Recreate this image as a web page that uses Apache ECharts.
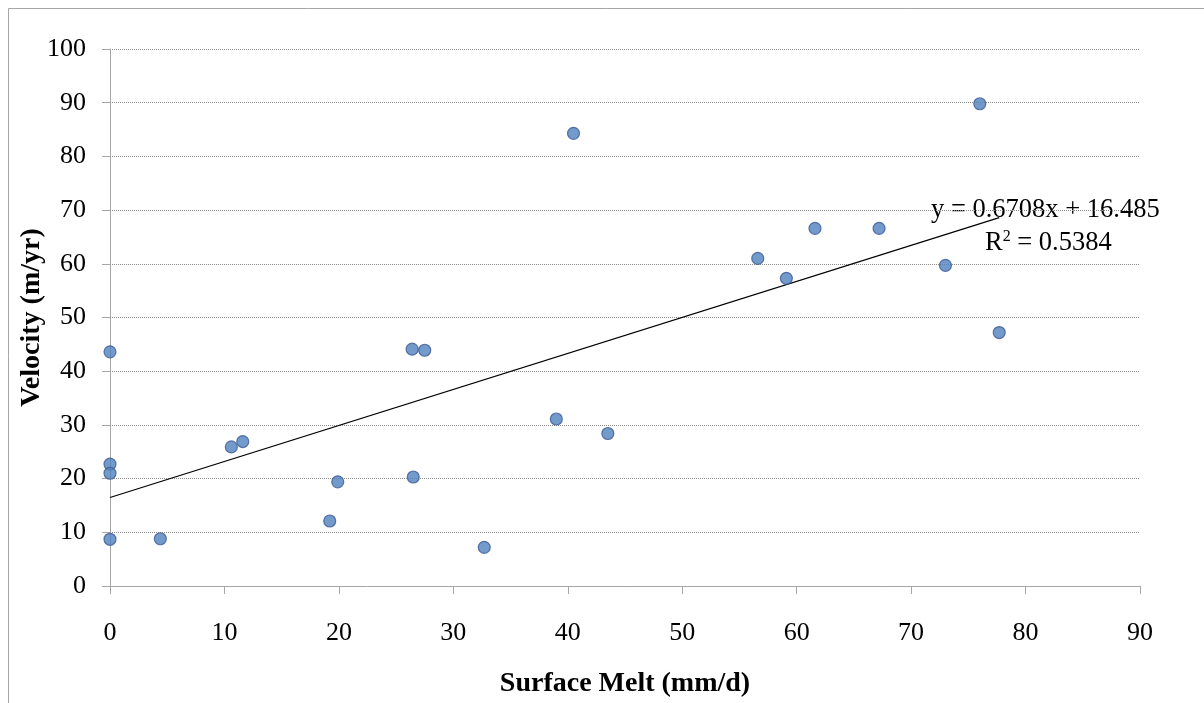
<!DOCTYPE html>
<html>
<head>
<meta charset="utf-8">
<script src="https://cdn.jsdelivr.net/npm/echarts@6/dist/echarts.min.js"></script>
<style>
  html, body { margin: 0; padding: 0; background: #fff; }
  #main { width: 1204px; height: 703px; }
</style>
</head>
<body>
<div id="main"></div>
<script>
// surface melt (mm/d) and velocity (m/yr)
var meltX = [0, 0, 0, 0, 4.4, 10.6, 11.6, 19.2, 19.9, 26.4, 26.5, 27.5, 32.7, 39.0, 40.5, 43.5, 56.6, 59.1, 61.6, 67.2, 73.0, 76.0, 77.7];
var velocityY = [43.6, 22.7, 21.0, 8.7, 8.8, 25.9, 26.9, 12.1, 19.4, 44.1, 20.3, 43.9, 7.2, 31.1, 84.3, 28.4, 61.0, 57.3, 66.6, 66.6, 59.7, 89.8, 47.2];

// linear trendline endpoints (first and last x)
var trendX = [0, 77.7];
var trendY = [16.485, 68.6];
var trendLabel = ['y = 0.6708x + 16.485', 'R{sup|2} = 0.5384'];

var xTicks = { min: 0, max: 90, interval: 10 };
var yTicks = { min: 0, max: 100, interval: 10 };

var points = meltX.map(function (x, i) { return [x, velocityY[i]]; });
var trend = trendX.map(function (x, i) { return [x, trendY[i]]; });

var serif = '"Liberation Serif", "DejaVu Serif", serif';

var myChart = echarts.init(document.getElementById('main'));
var option = {
    backgroundColor: '#fff',
    animation: false,
    grid: { left: 110, right: 64, top: 49, bottom: 117 },
    xAxis: {
        type: 'value',
        min: xTicks.min, max: xTicks.max, interval: xTicks.interval,
        name: 'Surface Melt (mm/d)',
        nameLocation: 'middle',
        nameGap: 84,
        nameTextStyle: { fontFamily: serif, fontWeight: 'bold', fontSize: 28, color: '#000' },
        axisLine: { show: true, onZero: false, lineStyle: { color: '#a6a6a6', width: 1 } },
        axisTick: { show: true, inside: false, length: 8, lineStyle: { color: '#a6a6a6' } },
        axisLabel: { margin: 34, fontFamily: serif, fontSize: 26, color: '#000' },
        splitLine: { show: false }
    },
    yAxis: {
        type: 'value',
        min: yTicks.min, max: yTicks.max, interval: yTicks.interval,
        name: 'Velocity (m/yr)',
        nameLocation: 'middle',
        nameGap: 64,
        nameMoveOverlap: false,
        nameTextStyle: { fontFamily: serif, fontWeight: 'bold', fontSize: 28, color: '#000' },
        axisLine: { show: true, lineStyle: { color: '#a6a6a6', width: 1 } },
        axisTick: { show: true, inside: false, length: 8, lineStyle: { color: '#a6a6a6' } },
        axisLabel: { margin: 24, fontFamily: serif, fontSize: 26, color: '#000' },
        splitLine: { show: true, lineStyle: { color: '#8c8c8c', width: 1, type: [1, 1] } }
    },
    graphic: [
        {
            type: 'rect',
            shape: { x: 8.5, y: 8.5, width: 1300, height: 900 },
            style: { fill: 'none', stroke: '#a6a6a6', lineWidth: 1 },
            silent: true
        },
        {
            type: 'text',
            left: 931, top: 197,
            style: {
                text: trendLabel[0],
                font: '26.5px ' + serif,
                fill: '#000'
            }
        },
        {
            type: 'text',
            left: 985, top: 229,
            style: {
                text: trendLabel[1],
                font: '26.5px ' + serif,
                fill: '#000',
                rich: { sup: { fontSize: 16, verticalAlign: 'top', padding: [0, 0, 12, 0], fontFamily: serif } }
            }
        }
    ],
    series: [
        {
            name: 'Trendline',
            type: 'line',
            data: trend,
            symbol: 'none',
            silent: true,
            lineStyle: { color: '#000', width: 1.2 },
            z: 2
        },
        {
            name: 'Velocity',
            type: 'scatter',
            data: points,
            symbol: 'circle',
            symbolSize: 12,
            itemStyle: { color: '#4f81bd', borderColor: '#3c5a94', borderWidth: 1.2 },
            z: 3
        }
    ]
};
myChart.setOption(option);
</script>
</body>
</html>
